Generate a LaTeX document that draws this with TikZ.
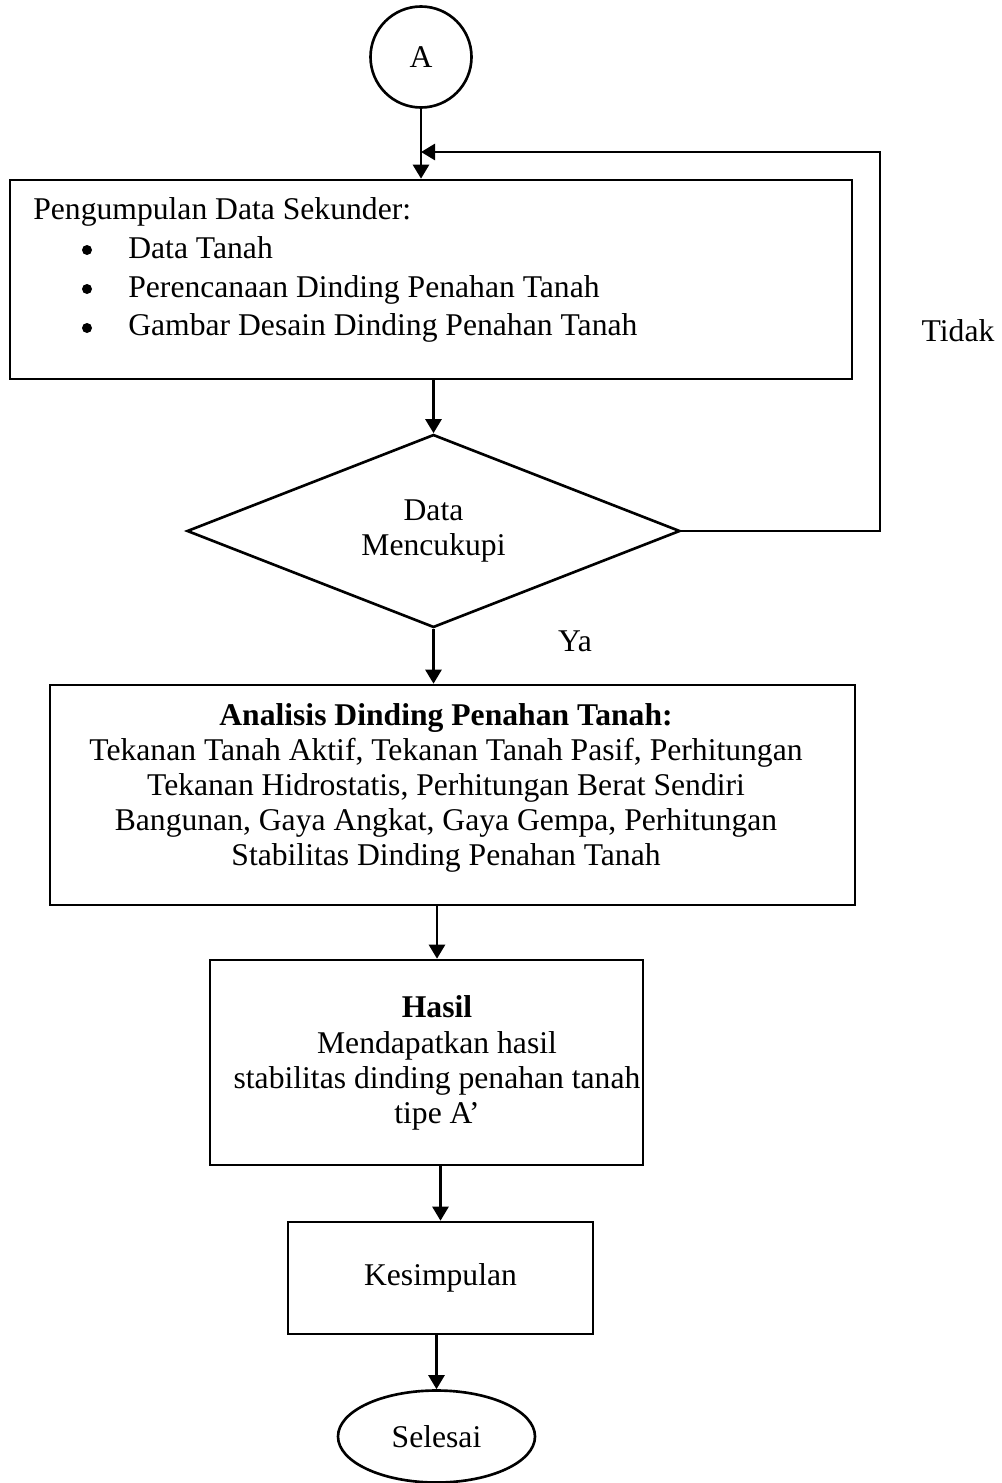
\documentclass[tikz,border=0pt]{standalone}
\usepackage{fontspec}
\setmainfont{Liberation Serif}
\usetikzlibrary{arrows.meta,shapes.geometric}

\begin{document}
\begin{tikzpicture}[x=0.2mm,y=-0.2mm,
	every node/.style={font=\fontsize{18}{20}\selectfont},
	box/.style={draw,line width=1.5pt,rectangle,inner sep=0pt},
	dot/.style={circle,fill,inner sep=0pt,minimum size=2mm},
	arr/.style={line width=1.5pt,-{Triangle[length=2.8mm,width=3.2mm]}}]

	\useasboundingbox (0,0) rectangle (1001,1483);

	\node[draw,circle,line width=1.5pt,minimum size=20.2mm,inner sep=0pt] (start) at (421,57) {A};

	\node[box,minimum width=168.4mm,minimum height=39.8mm] (data) at (431,279.5) {};
	\node[anchor=base west,inner sep=0pt] (datatitle) at (33,220) {Pengumpulan Data Sekunder:};
	\node[dot] (b1) at (87,250) {};
	\node[dot] (b2) at (87,289) {};
	\node[dot] (b3) at (87,328) {};
	\node[anchor=base west,inner sep=0pt] (item1) at (128,258) {Data Tanah};
	\node[anchor=base west,inner sep=0pt] (item2) at (128,297) {Perencanaan Dinding Penahan Tanah};
	\node[anchor=base west,inner sep=0pt] (item3) at (128,335) {Gambar Desain Dinding Penahan Tanah};

	\node[draw,diamond,line width=1.5pt,aspect=2.5,inner sep=0pt,
		minimum width=98.6mm,minimum height=38.6mm,align=center] (check) at (433.5,531) {Data\\Mencukupi};

	\node[box,minimum width=161mm,minimum height=44mm] (ana) at (452.5,795) {};
	\node[align=center,inner sep=0pt] (anatxt) at (446,788) {\textbf{Analisis Dinding Penahan Tanah:}\\
		Tekanan Tanah Aktif, Tekanan Tanah Pasif, Perhitungan\\
		Tekanan Hidrostatis, Perhitungan Berat Sendiri\\
		Bangunan, Gaya Angkat, Gaya Gempa, Perhitungan\\
		Stabilitas Dinding Penahan Tanah};

	\node[box,minimum width=86.6mm,minimum height=41mm] (hasil) at (426.5,1062.5) {};
	\node[align=center,inner sep=0pt] (hasiltxt) at (437,1063) {\textbf{Hasil}\\
		Mendapatkan hasil\\
		stabilitas dinding penahan tanah\\
		tipe A’};

	\node[box,minimum width=61mm,minimum height=22.4mm] (kes) at (440.5,1278) {Kesimpulan};

	\node[draw,ellipse,line width=1.5pt,minimum width=39.4mm,minimum height=18.4mm,inner sep=0pt] (end) at (436.5,1436.5) {Selesai};

	\node (tidak) at (958,331) {Tidak};
	\node (ya) at (575,641) {Ya};

	\draw[arr] (start) -- (start |- data.north);
	\draw[arr] (check |- data.south) -- (check);
	\draw[arr] (check) -- (check |- ana.north);
	\draw[arr] (ana.south -| hasiltxt) -- (hasil.north -| hasiltxt);
	\draw[arr] (kes |- hasil.south) -- (kes);
	\draw[arr] (end |- kes.south) -- (end);

	\coordinate (back) at (880,152);
	\draw[arr] (check.east) -| (back) -- (start |- back);

\end{tikzpicture}
\end{document}
